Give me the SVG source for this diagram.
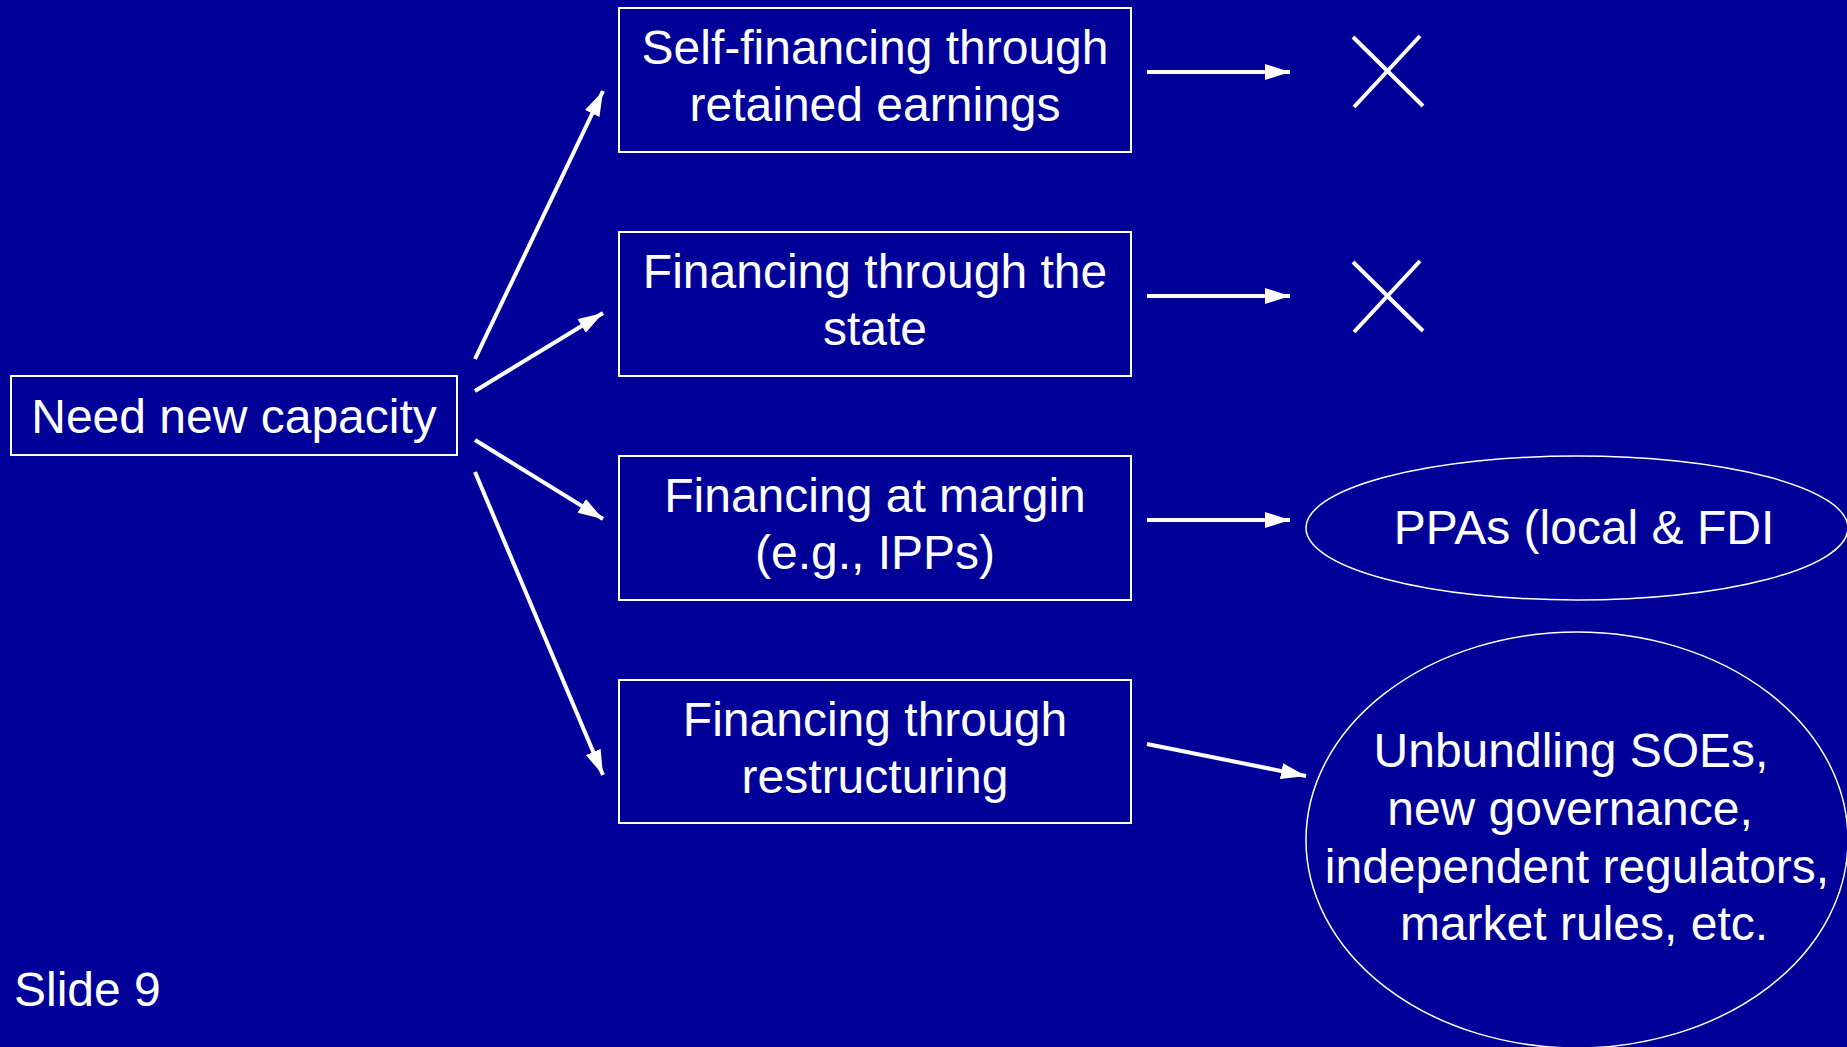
<svg xmlns="http://www.w3.org/2000/svg" width="1847" height="1047" viewBox="0 0 1847 1047">
<style>
.bg{fill:#000099}
.box{fill:none;stroke:#fff;stroke-width:2}
.ell{fill:none;stroke:#fff;stroke-width:1.5}
.t{font-family:"Liberation Sans",Arial,sans-serif;font-size:48px;fill:#fff;text-anchor:middle}
.c{stroke:#fff;stroke-width:4;fill:none}
.x{stroke:#fff;stroke-width:4;fill:none}
</style>
<defs>
<marker id="ah" markerUnits="userSpaceOnUse" markerWidth="26" markerHeight="18" refX="25" refY="8" orient="auto">
<path d="M0,0 L25,8 L0,16 z" fill="#fff"/>
</marker>
</defs>
<rect class="bg" x="0" y="0" width="1847" height="1047"/>
<g id="need">
<rect class="box" x="11" y="376" width="446" height="79"/>
<text class="t" x="234" y="433">Need new capacity</text>
</g>
<g id="self">
<rect class="box" x="619" y="8" width="512" height="144"/>
<text class="t" x="875" y="64">Self-financing through</text>
<text class="t" x="875" y="121">retained earnings</text>
</g>
<g id="state">
<rect class="box" x="619" y="232" width="512" height="144"/>
<text class="t" x="875" y="288">Financing through the</text>
<text class="t" x="875" y="345">state</text>
</g>
<g id="margin">
<rect class="box" x="619" y="456" width="512" height="144"/>
<text class="t" x="875" y="512">Financing at margin</text>
<text class="t" x="875" y="569">(e.g., IPPs)</text>
</g>
<g id="restructuring">
<rect class="box" x="619" y="680" width="512" height="143"/>
<text class="t" x="875" y="736">Financing through</text>
<text class="t" x="875" y="793">restructuring</text>
</g>
<g id="x1">
<line class="x" x1="1353" y1="37" x2="1423" y2="106"/>
<line class="x" x1="1420" y1="36" x2="1354" y2="107"/>
</g>
<g id="x2">
<line class="x" x1="1353" y1="262" x2="1423" y2="331"/>
<line class="x" x1="1420" y1="261" x2="1354" y2="332"/>
</g>
<g id="ppas">
<ellipse class="ell" cx="1577" cy="528" rx="271" ry="72"/>
<text class="t" x="1584" y="544">PPAs (local &amp; FDI</text>
</g>
<g id="unbundling">
<ellipse class="ell" cx="1577" cy="840" rx="271" ry="208"/>
<text class="t" x="1571" y="767">Unbundling SOEs,</text>
<text class="t" x="1570" y="825">new governance,</text>
<text class="t" x="1577" y="883">independent regulators,</text>
<text class="t" x="1584" y="940">market rules, etc.</text>
</g>
<g id="slide">
<text class="t" x="14" y="1006" style="text-anchor:start">Slide 9</text>
</g>
<g id="connectors">
<line class="c" x1="475" y1="359" x2="603" y2="91" marker-end="url(#ah)"/>
<line class="c" x1="475" y1="391" x2="603" y2="313" marker-end="url(#ah)"/>
<line class="c" x1="475" y1="440" x2="603" y2="519" marker-end="url(#ah)"/>
<line class="c" x1="475" y1="472" x2="603" y2="775" marker-end="url(#ah)"/>
<line class="c" x1="1147" y1="72" x2="1290" y2="72" marker-end="url(#ah)"/>
<line class="c" x1="1147" y1="296" x2="1290" y2="296" marker-end="url(#ah)"/>
<line class="c" x1="1147" y1="520" x2="1290" y2="520" marker-end="url(#ah)"/>
<line class="c" x1="1147" y1="744" x2="1306" y2="776" marker-end="url(#ah)"/>
</g>
</svg>
